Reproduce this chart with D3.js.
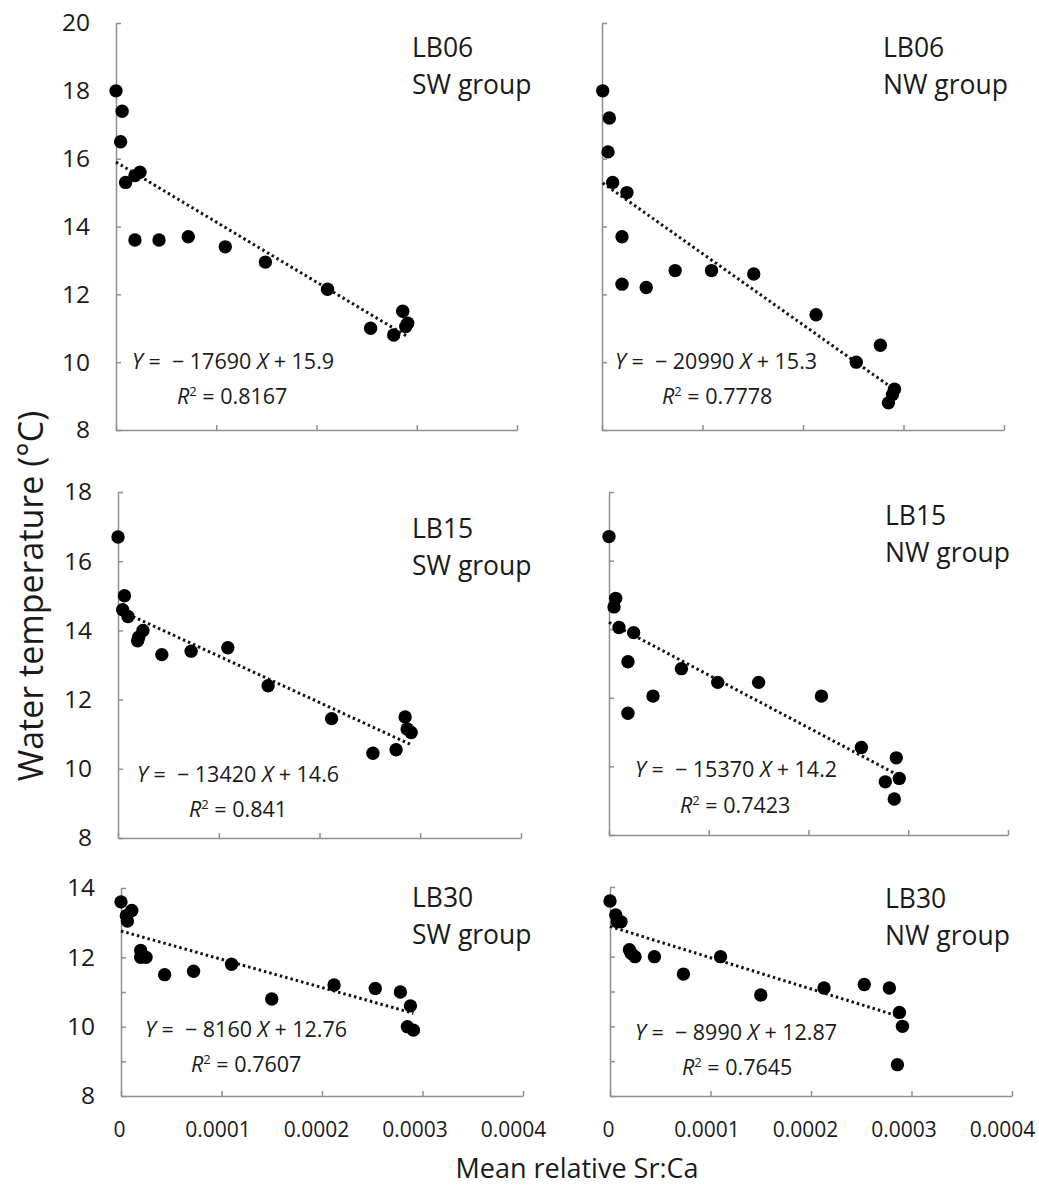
<!DOCTYPE html>
<html>
<head>
<meta charset="utf-8">
<script src="https://cdnjs.cloudflare.com/ajax/libs/d3/7.8.5/d3.min.js"></script>
<style>
  body { margin: 0; background: #fff; }
  svg { display: block; font-family: "Open Sans", sans-serif; }
  .axis path, .axis line { stroke: #8f8f8f; stroke-width: 1.5; }
  .axis text { fill: #1a1a1a; font-family: "Open Sans", sans-serif; }
  .eq { white-space: pre; fill: #1a1a1a; }
</style>
</head>
<body>
<div id="chart"></div>
<script>
// station / group labels
const stations = ["LB06", "LB06", "LB15", "LB15", "LB30", "LB30"];
const groups = ["SW group", "NW group", "SW group", "NW group", "SW group", "NW group"];

// regression results as printed
const slopes = [-17690, -20990, -13420, -15370, -8160, -8990];
const intercepts = ["15.9", "15.3", "14.6", "14.2", "12.76", "12.87"];
const r2s = ["0.8167", "0.7778", "0.841", "0.7423", "0.7607", "0.7645"];

// x tick labels (bottom row only)
const xTickLabels = ["0", "0.0001", "0.0002", "0.0003", "0.0004"];
const xTicks = [0, 0.0001, 0.0002, 0.0003, 0.0004];

// points: mean relative Sr:Ca vs water temperature
const lb06swX = [0, 0.0000061, 0.0000046, 0.0000096, 0.0000189, 0.0000239, 0.0000189, 0.0000429, 0.0000721, 0.000109, 0.000149, 0.000211, 0.000254, 0.000277, 0.000286, 0.000289, 0.000291];
const lb06swY = [18.0, 17.4, 16.5, 15.3, 15.5, 15.6, 13.6, 13.6, 13.7, 13.4, 12.95, 12.15, 11.0, 10.8, 11.5, 11.05, 11.15];

const lb06nwX = [0.0000007, 0.0000073, 0.000006, 0.0000106, 0.0000248, 0.0000199, 0.0000199, 0.000044, 0.0000728, 0.000109, 0.000151, 0.000213, 0.000253, 0.000277, 0.000291, 0.000289, 0.000285];
const lb06nwY = [18.0, 17.2, 16.2, 15.3, 15.0, 13.7, 12.3, 12.2, 12.7, 12.7, 12.6, 11.4, 10.0, 10.5, 9.2, 9.05, 8.8];

const lb15swX = [0, 0.0000064, 0.0000046, 0.0000099, 0.0000195, 0.0000205, 0.0000248, 0.0000435, 0.0000726, 0.000109, 0.000149, 0.000212, 0.000253, 0.000276, 0.000285, 0.000287, 0.000291];
const lb15swY = [16.7, 15.0, 14.6, 14.4, 13.7, 13.8, 14.0, 13.3, 13.4, 13.5, 12.4, 11.45, 10.45, 10.55, 11.5, 11.15, 11.05];

const lb15nwX = [0, 0.0000067, 0.000005, 0.00001, 0.0000247, 0.000019, 0.000019, 0.0000441, 0.0000726, 0.000109, 0.00015, 0.000213, 0.000253, 0.000288, 0.000277, 0.000291, 0.000286];
const lb15nwY = [16.7, 14.9, 14.65, 14.05, 13.9, 13.05, 11.55, 12.05, 12.85, 12.45, 12.45, 12.05, 10.55, 10.25, 9.55, 9.65, 9.05];

const lb30swX = [0, 0.0000053, 0.0000107, 0.0000064, 0.0000196, 0.0000196, 0.0000249, 0.0000434, 0.0000722, 0.00011, 0.00015, 0.000212, 0.000253, 0.000278, 0.000288, 0.000285, 0.000291];
const lb30swY = [13.6, 13.2, 13.35, 13.05, 12.2, 12.0, 12.0, 11.5, 11.6, 11.8, 10.8, 11.2, 11.1, 11.0, 10.6, 10.0, 9.9];

const lb30nwX = [0, 0.0000057, 0.0000073, 0.000011, 0.0000193, 0.000021, 0.0000249, 0.0000442, 0.0000731, 0.00011, 0.00015, 0.000213, 0.000253, 0.000278, 0.000288, 0.000291, 0.000286];
const lb30nwY = [13.6, 13.2, 13.0, 13.0, 12.2, 12.1, 12.0, 12.0, 11.5, 12.0, 10.9, 11.1, 11.2, 11.1, 10.4, 10.0, 8.9];

const xSeries = [lb06swX, lb06nwX, lb15swX, lb15nwX, lb30swX, lb30nwX];
const ySeries = [lb06swY, lb06nwY, lb15swY, lb15nwY, lb30swY, lb30nwY];

// y domains / tick sets per row
const yDomains = [[8, 20], [8, 20], [8, 18], [8, 18], [8, 14], [8, 14]];
const yTickSets = [
  [8, 10, 12, 14, 16, 18, 20], [8, 10, 12, 14, 16, 18, 20],
  [8, 10, 12, 14, 16, 18], [8, 10, 12, 14, 16, 18],
  [8, 9, 10, 11, 12, 13, 14], [8, 9, 10, 11, 12, 13, 14]
];

// panel placement on the page (the pieces were pasted together, so they don't line up exactly)
const layout = [
  { x0: 116, x1: 517, yTop: 23, yBot: 430, label: [412, 57], eq: [132, 369], r2: [177, 404], left: true },
  { x0: 602, x1: 1004, yTop: 23, yBot: 430, label: [883, 57], eq: [615, 369], r2: [662, 404], left: false },
  { x0: 118, x1: 521, yTop: 492, yBot: 838, label: [412, 538], eq: [137, 782], r2: [189, 817], left: true },
  { x0: 609, x1: 1008, yTop: 492, yBot: 835, label: [885, 525], eq: [635, 777], r2: [680, 813], left: false },
  { x0: 121, x1: 523, yTop: 888, yBot: 1096, label: [412, 907], eq: [145, 1037], r2: [191, 1072], left: true, bottom: true },
  { x0: 610, x1: 1012, yTop: 887, yBot: 1096, label: [885, 908], eq: [635, 1040], r2: [682, 1075], left: false, bottom: true }
];

const width = 1039, height = 1189;

const svg = d3.select("#chart").append("svg")
  .attr("width", width)
  .attr("height", height);

layout.forEach((p, i) => {
  const x = d3.scaleLinear().domain([0, 0.0004]).range([p.x0, p.x1]);
  const y = d3.scaleLinear().domain(yDomains[i]).range([p.yBot, p.yTop]);
  const g = svg.append("g");

  // y axis, ticks pointing inward
  const yAxis = d3.axisLeft(y)
    .tickValues(yTickSets[i])
    .tickSizeInner(-5)
    .tickSizeOuter(0)
    .tickPadding(26)
    .tickFormat(d => (p.left && d % 2 === 0) ? d : "");
  g.append("g")
    .attr("class", "axis y-axis")
    .attr("transform", "translate(" + p.x0 + ",0)")
    .call(yAxis)
    .selectAll("text")
    .style("font-size", "24.5px");

  // x axis, ticks pointing up, no labels here
  const xAxis = d3.axisBottom(x)
    .tickValues(xTicks)
    .tickSizeInner(-5)
    .tickSizeOuter(0)
    .tickFormat("");
  g.append("g")
    .attr("class", "axis x-axis")
    .attr("transform", "translate(0," + p.yBot + ")")
    .call(xAxis);

  // bottom row gets its tick labels (they sit a little left of the ticks in the original)
  if (p.bottom) {
    const xl = d3.scaleLinear().domain([0, 0.0004]).range([p.x0 - 2, p.x1 - 10]);
    const lab = g.append("g")
      .attr("class", "axis x-labels")
      .attr("transform", "translate(0,1137)")
      .call(d3.axisBottom(xl).tickValues(xTicks).tickSize(0).tickPadding(0)
        .tickFormat((d, k) => xTickLabels[k]));
    lab.select(".domain").remove();
    lab.selectAll("text")
      .attr("dy", 0)
      .style("font-size", "21px");
  }

  // trendline over the data range
  const xs = xSeries[i];
  const ext = d3.extent(xs);
  const line = d3.line().x(d => x(d)).y(d => y(slopes[i] * d + +intercepts[i]));
  g.append("path")
    .datum(ext)
    .attr("d", line)
    .attr("fill", "none")
    .attr("stroke", "#111")
    .attr("stroke-width", 3)
    .attr("stroke-dasharray", "2.5,3");

  // points
  g.selectAll("circle")
    .data(xs.map((d, k) => ({ x: d, y: ySeries[i][k] })))
    .enter().append("circle")
    .attr("cx", d => x(d.x))
    .attr("cy", d => y(d.y))
    .attr("r", 6.7)
    .attr("fill", "#000");

  // station / group label
  g.append("text")
    .attr("x", p.label[0]).attr("y", p.label[1])
    .style("font-size", "26.5px").attr("fill", "#1a1a1a")
    .text(stations[i]);
  g.append("text")
    .attr("x", p.label[0]).attr("y", p.label[1] + 37)
    .style("font-size", "26.5px").attr("fill", "#1a1a1a")
    .text(groups[i]);

  // regression equation
  const eq = g.append("text")
    .attr("class", "eq")
    .attr("x", p.eq[0]).attr("y", p.eq[1])
    .style("font-size", "21.5px");
  eq.append("tspan").style("font-style", "italic").text("Y");
  eq.append("tspan").text(" =  \u2212 " + Math.abs(slopes[i]) + " ");
  eq.append("tspan").style("font-style", "italic").text("X");
  eq.append("tspan").text(" + " + intercepts[i]);

  const r2 = g.append("text")
    .attr("class", "eq")
    .attr("x", p.r2[0]).attr("y", p.r2[1])
    .style("font-size", "21.5px");
  r2.append("tspan").style("font-style", "italic").text("R");
  r2.append("tspan").attr("dy", -8).style("font-size", "13px").text("2");
  r2.append("tspan").attr("dy", 8).text(" = " + r2s[i]);
});

// axis titles
svg.append("text")
  .attr("transform", "translate(43,596) rotate(-90)")
  .attr("text-anchor", "middle")
  .style("font-size", "34px")
  .attr("fill", "#1a1a1a")
  .text("Water temperature (\u00B0C)");

svg.append("text")
  .attr("x", 577).attr("y", 1178)
  .attr("text-anchor", "middle")
  .style("font-size", "27px")
  .attr("fill", "#1a1a1a")
  .text("Mean relative Sr:Ca");
</script>
</body>
</html>
